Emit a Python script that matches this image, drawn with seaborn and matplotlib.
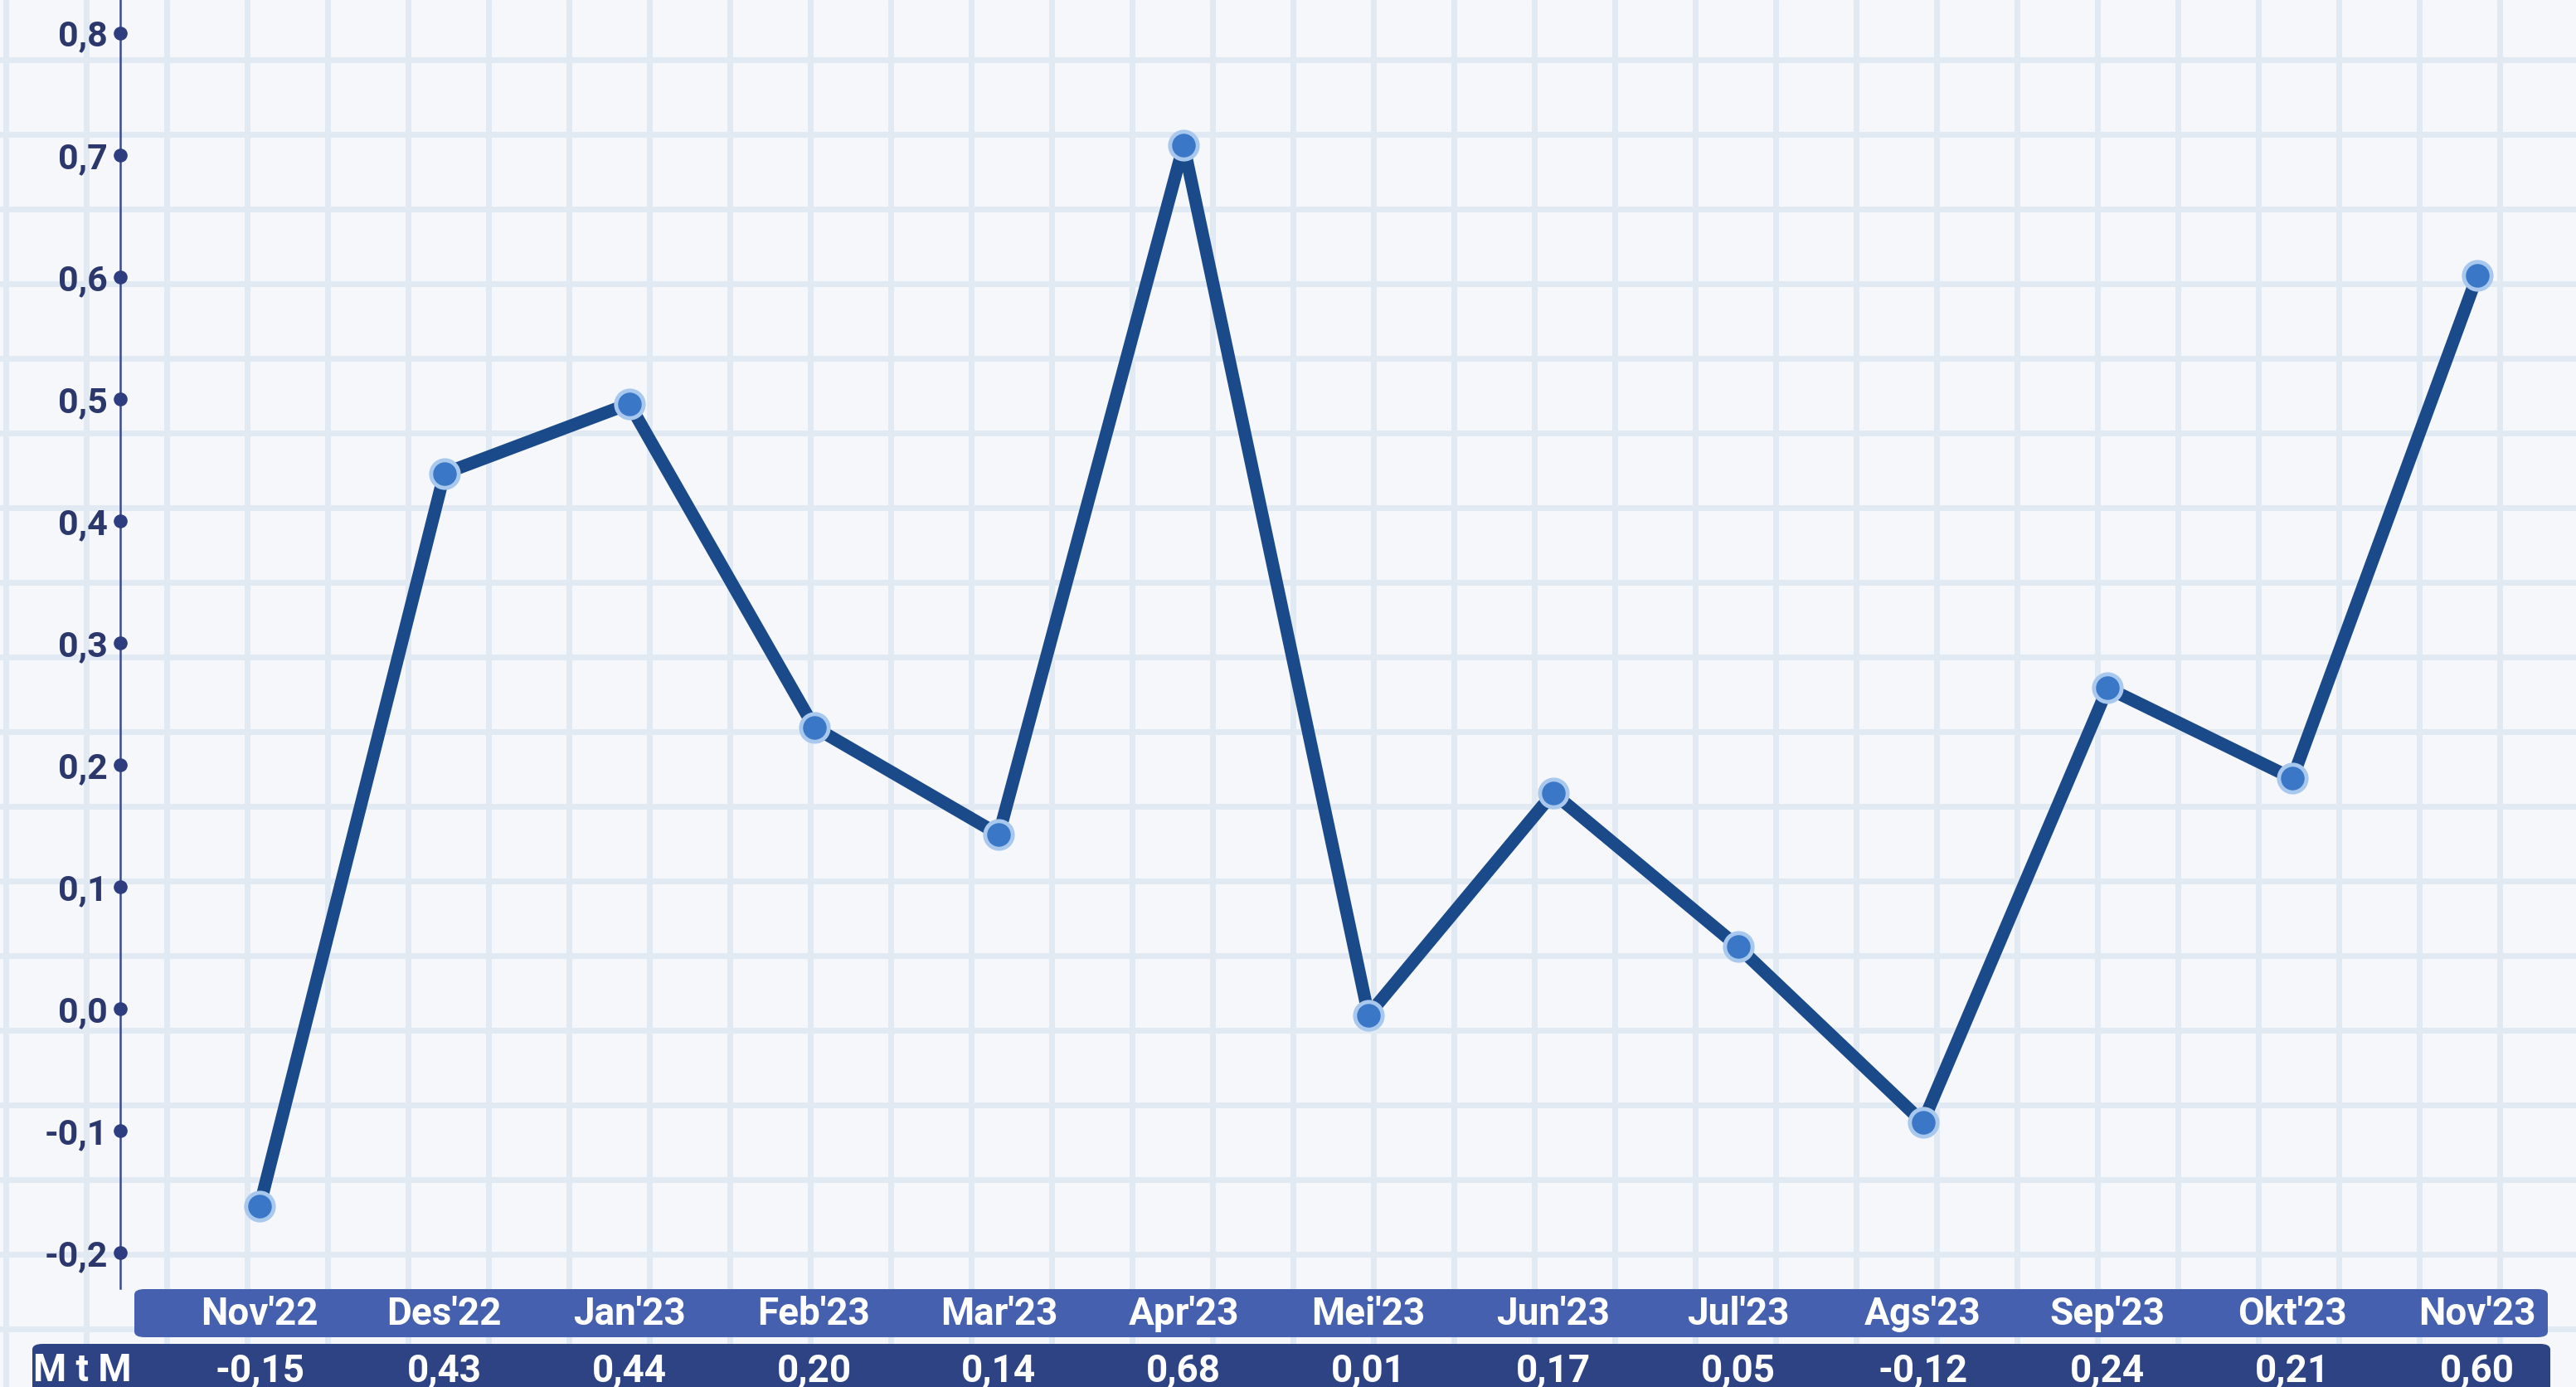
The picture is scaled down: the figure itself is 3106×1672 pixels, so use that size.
import numpy as np
import pandas as pd
import matplotlib
matplotlib.use("Agg")
import matplotlib.pyplot as plt
import matplotlib.transforms as mtransforms
from matplotlib.patches import FancyBboxPatch
from matplotlib.ticker import FuncFormatter
import seaborn as sns

# Data
bulan = ["Nov'22", "Des'22", "Jan'23", "Feb'23", "Mar'23", "Apr'23", "Mei'23",
         "Jun'23", "Jul'23", "Ags'23", "Sep'23", "Okt'23", "Nov'23"]
nilai_grafik = [-0.162, 0.439, 0.496, 0.231, 0.143, 0.708, -0.005,
                0.177, 0.051, -0.093, 0.263, 0.189, 0.601]
label_mtm = ["-0,15", "0,43", "0,44", "0,20", "0,14", "0,68", "0,01",
             "0,17", "0,05", "-0,12", "0,24", "0,21", "0,60"]
y_ticks = [-0.2, -0.1, 0.0, 0.1, 0.2, 0.3, 0.4, 0.5, 0.6, 0.7, 0.8]

W, H = 3106, 1672
sns.set_style("white")
plt.rcParams["font.family"] = ["Roboto", "DejaVu Sans"]
FW = "bold"

fig = plt.figure(figsize=(W / 100, H / 100), dpi=100)
fig.patch.set_facecolor("#F5F7FA")

# Latar kertas berpetak
bg = fig.add_axes([0, 0, 1, 1], zorder=-5)
bg.set_xlim(0, W)
bg.set_ylim(H, 0)
bg.set_facecolor("#F5F7FA")
bg.set_xticks(np.arange(7, W, 97))
bg.set_yticks(np.arange(72, H, 90))
bg.grid(True, color="#E1EAF3", linewidth=5)
bg.tick_params(length=0, labelbottom=False, labelleft=False)
for s in bg.spines.values():
    s.set_visible(False)

# Plot utama
ax = fig.add_axes([145 / W, 1 - 1553 / H, (W - 145) / W, 1553 / H])
ax.set_facecolor("none")
df = pd.DataFrame({"bulan": bulan, "nilai": nilai_grafik})
sns.lineplot(data=df, x="bulan", y="nilai", sort=False, ax=ax,
             color="#1B4A8A", linewidth=11, marker="o", markersize=24,
             markerfacecolor="#3A77C6", markeredgecolor="#A9C8EE",
             markeredgewidth=3.5, zorder=5)
ax.set_xlim(-0.754, 12.534)
ax.set_ylim(-0.229, 0.827)
ax.set_xlabel("")
ax.set_ylabel("")
ax.set_xticks([])
ax.set_yticks(y_ticks)
ax.yaxis.set_major_formatter(FuncFormatter(
    lambda v, p: f"{round(v, 1) + 0.0:.1f}".replace(".", ",")))
ax.tick_params(axis="y", labelsize=31, labelcolor="#2C386B", pad=11, length=0)
for lbl in ax.get_yticklabels():
    lbl.set_fontweight(FW)
# titik penanda tick pada sumbu
ax.scatter(np.zeros(len(y_ticks)), y_ticks, s=120, color="#2D3D80",
           transform=ax.get_yaxis_transform(), clip_on=False, zorder=6)
for s in ["top", "right", "bottom"]:
    ax.spines[s].set_visible(False)
ax.spines["left"].set_color("#3B4A8F")
ax.spines["left"].set_linewidth(1.8)

# Tabel bawah
row1 = FancyBboxPatch((162 / W, 1 - 1612 / H), (3072 - 162) / W, 58 / H,
                      boxstyle="round,pad=0,rounding_size=0.004",
                      transform=fig.transFigure, facecolor="#4560AE",
                      edgecolor="none", zorder=1)
row2 = FancyBboxPatch((39 / W, 1 - 1690 / H), (3075 - 39) / W, 70 / H,
                      boxstyle="round,pad=0,rounding_size=0.004",
                      transform=fig.transFigure, facecolor="#2E4384",
                      edgecolor="none", zorder=1)
fig.patches.extend([row1, row2])

trans = mtransforms.blended_transform_factory(ax.transData, fig.transFigure)
for i, (b, v) in enumerate(zip(bulan, label_mtm)):
    fig.text(i, 1 - 1584 / H, b, transform=trans, ha="center", va="center",
             color="white", fontsize=33, fontweight=FW, zorder=3)
    fig.text(i, 1 - 1652 / H, v, transform=trans, ha="center", va="center",
             color="white", fontsize=33, fontweight=FW, zorder=3)
fig.text(40 / W, 1 - 1652 / H, "M t M", ha="left", va="center",
         color="white", fontsize=33, fontweight=FW, zorder=3)

fig.savefig("out.png", dpi=100, facecolor=fig.get_facecolor())
